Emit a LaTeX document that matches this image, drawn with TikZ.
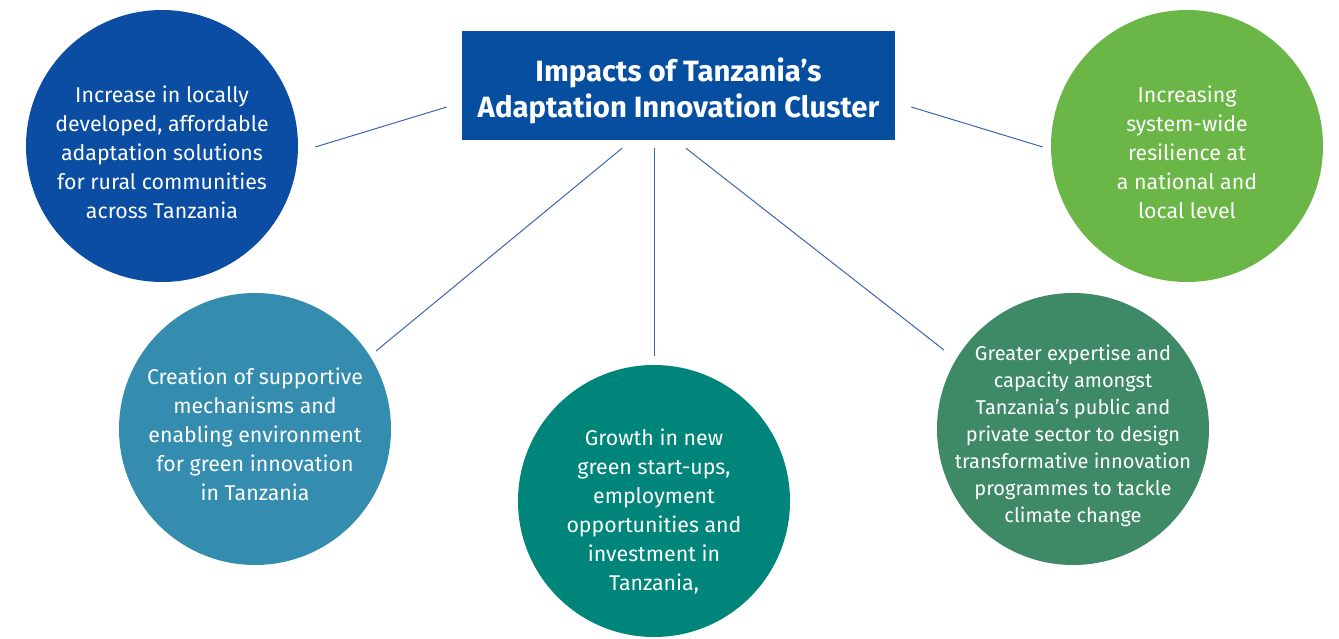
\documentclass[tikz,border=0pt]{standalone}
\usepackage{fontspec}
\setmainfont{Fira Sans}
\usetikzlibrary{calc}

\definecolor{tzNavy}{HTML}{064EA0}
\definecolor{tzBlue}{HTML}{0A4DA2}
\definecolor{tzLime}{HTML}{6AB646}
\definecolor{tzSteel}{HTML}{348CAF}
\definecolor{tzTeal}{HTML}{00857A}
\definecolor{tzForest}{HTML}{3E8A66}
\definecolor{tzLink}{HTML}{3A66B0}

\begin{document}
\begin{tikzpicture}[x=0.75pt,y=0.75pt,yscale=-1,xscale=1,
  impact/.style={circle,minimum size=204pt,inner sep=0pt},
  caption/.style={text=white,align=center,inner sep=0pt,
    font=\fontsize{16}{21.75}\selectfont},
  link/.style={draw=tzLink,line width=0.75pt}]
%set diagram to the full frame
\useasboundingbox (0,0) rectangle (1339,639);

%Title box
\node (title) [fill=tzNavy,minimum width=324.75pt,minimum height=81.75pt,inner sep=0pt]
  at (678.5,85.5) {};
\node (title text) [caption,font=\fontsize{22}{27}\selectfont\bfseries]
  at ($(title.center)+(0,5)$) {Impacts of Tanzania’s\\Adaptation Innovation Cluster};

%Circles
\node (increase) [impact,fill=tzBlue] at (162,146) {};
\node (resilience) [impact,fill=tzLime] at (1187,146) {};
\node (support) [impact,fill=tzSteel] at (255,429) {};
\node (growth) [impact,fill=tzTeal] at (654,501) {};
\node (expertise) [impact,fill=tzForest] at (1073,429) {};

% Text Node
\node (increase text) [caption] at ($(increase.center)+(0,6)$)
  {Increase in locally\\developed, affordable\\adaptation solutions\\for rural communities\\across Tanzania};
\node (resilience text) [caption] at ($(resilience.center)+(0,6)$)
  {Increasing\\system-wide\\resilience at\\a national and\\local level};
\node (support text) [caption] at ($(support.center)+(0,5)$)
  {Creation of supportive\\mechanisms and\\enabling environment\\for green innovation\\in Tanzania};
\node (growth text) [caption] at ($(growth.center)+(0,10)$)
  {Growth in new\\green start-ups,\\employment\\opportunities and\\investment in\\Tanzania,};
\node (expertise text) [caption,font=\fontsize{15}{20.25}\selectfont] at ($(expertise.center)+(0,7)$)
  {Greater expertise and\\capacity amongst\\Tanzania’s public and\\private sector to design\\transformative innovation\\programmes to tackle\\climate change};

%Straight Lines
\draw[link] ($(increase.east)+(17,1)$) -- ($(title.west)+(-15,21.5)$);
\draw[link] ($(title.east)+(16,21.5)$) -- ($(resilience.west)+(-8,1)$);
\draw[link] ($(title.south)+(-56.5,8)$) -- ($(support.center)+(121,-78)$);
\draw[link] ($(title.south)+(-24.5,8)$) -- ($(growth.north)+(0,-9)$);
\draw[link] ($(title.south)+(7.5,8)$) -- ($(expertise.center)+(-129,-79)$);

\end{tikzpicture}
\end{document}
